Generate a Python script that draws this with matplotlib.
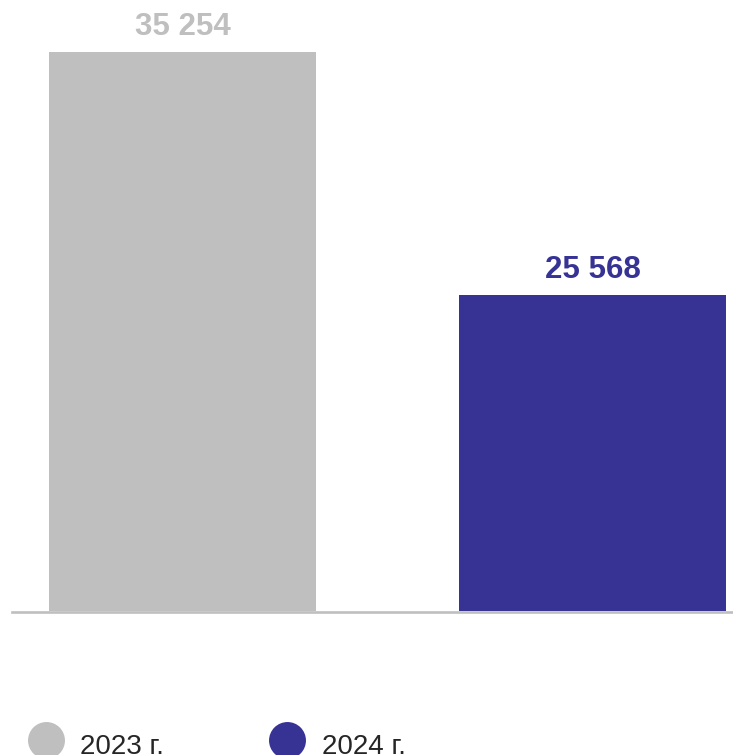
import matplotlib.pyplot as plt
from matplotlib.lines import Line2D

# data
years = ['2023 г.', '2024 г.']
values = [35254, 25568]
labels = ['35 254', '25 568']
colors = ['#bfbfbf', '#373395']

W, H = 733, 755
plt.rcParams['font.family'] = ['Liberation Sans', 'DejaVu Sans']

fig = plt.figure(figsize=(W / 100, H / 100), dpi=100)

# axes placed in pixel terms: left 11.7, bottom edge at y=611 (from top)
left, right, bottom, top = 11.7, 733, 611, 0
ax = fig.add_axes([left / W, 1 - bottom / H, (right - left) / W, (bottom - top) / H])

base = 13000
ax.bar(range(len(values)), [v - base for v in values], bottom=base,
       width=0.651, color=colors, zorder=2)
for i, (v, lab) in enumerate(zip(values, labels)):
    ax.annotate(lab, (i, v), xytext=(0, 17), textcoords='offset pixels',
                ha='center', va='baseline', fontsize=22.5, fontweight='bold',
                color=colors[i])

ax.set_xlim(-0.4166, 1.3427)
ax.set_ylim(base, base + 611 / (559 / (values[0] - base)))
ax.axis('off')

# baseline
yb = 1 - 612.3 / H
fig.add_artist(Line2D([left / W, 1], [yb, yb], color='#bfbfbf', lw=1.9))

# legend drawn in pixel coordinates
lax = fig.add_axes([0, 0, 1, 1])
lax.set_xlim(0, W)
lax.set_ylim(H, 0)
lax.axis('off')
mx = [45.7, 286.7]
tx = [80.5, 322]
for i, yr in enumerate(years):
    lax.plot(mx[i], 740, 'o', ms=26.6, color=colors[i], mec='none')
    lax.text(tx[i], 754, yr, fontsize=20, color='#262626', va='baseline', ha='left')

fig.savefig('out.png', dpi=100)
